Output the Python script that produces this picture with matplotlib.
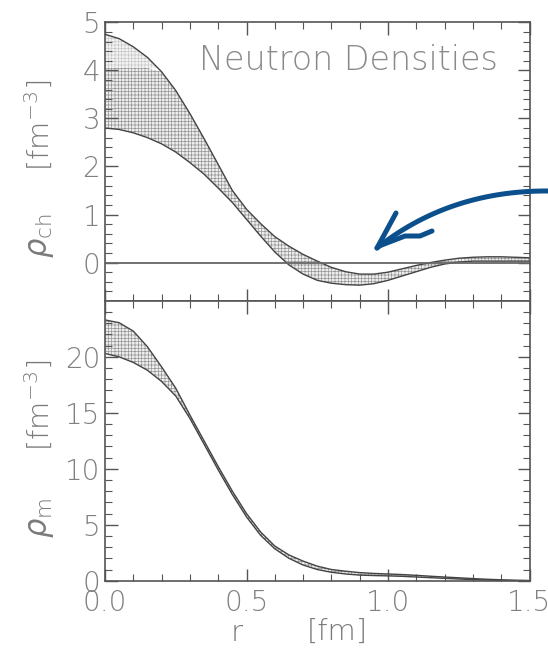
import numpy as np
import matplotlib
matplotlib.use("Agg")
import matplotlib.pyplot as plt
from matplotlib.ticker import MultipleLocator

# ---- data ----
r = [0.0, 0.05, 0.1, 0.15, 0.2, 0.25, 0.3, 0.35, 0.4, 0.45, 0.5, 0.55, 0.6, 0.65,
     0.7, 0.75, 0.8, 0.85, 0.9, 0.95, 1.0, 1.05, 1.1, 1.15, 1.2, 1.25, 1.3, 1.35,
     1.4, 1.45, 1.5]

rho_ch_upper = [4.75, 4.66, 4.49, 4.27, 3.97, 3.58, 3.10, 2.58, 2.04, 1.50, 1.11,
                0.81, 0.54, 0.34, 0.17, 0.03, -0.10, -0.19, -0.24, -0.24, -0.20,
                -0.13, -0.06, 0.00, 0.05, 0.09, 0.11, 0.12, 0.12, 0.11, 0.10]
rho_ch_lower = [2.80, 2.77, 2.70, 2.60, 2.47, 2.30, 2.08, 1.84, 1.55, 1.25, 0.90,
                0.55, 0.22, -0.05, -0.24, -0.37, -0.43, -0.46, -0.47, -0.44, -0.37,
                -0.28, -0.19, -0.10, -0.03, 0.01, 0.03, 0.03, 0.03, 0.03, 0.03]

rho_m_upper = [23.3, 23.05, 22.3, 20.9, 19.1, 17.2, 14.8, 12.5, 10.2, 8.0, 6.0, 4.35,
               3.1, 2.3, 1.75, 1.3, 1.0, 0.85, 0.72, 0.65, 0.6, 0.55, 0.48, 0.4,
               0.33, 0.26, 0.19, 0.13, 0.08, 0.04, 0.02]
rho_m_lower = [20.3, 20.0, 19.5, 18.8, 17.8, 16.5, 14.5, 12.2, 9.9, 7.7, 5.7, 4.05,
               2.85, 2.0, 1.4, 1.0, 0.75, 0.6, 0.5, 0.46, 0.43, 0.39, 0.33, 0.27,
               0.21, 0.15, 0.10, 0.06, 0.03, 0.01, 0.0]

title_text = "Neutron Densities"
xticks = [0.0, 0.5, 1.0, 1.5]
xticklabels = ["0.0", "0.5", "1.0", "1.5"]

# ---- figure ----
plt.rcParams['font.family'] = ['DejaVu Sans']
plt.rcParams['font.weight'] = 200
plt.rcParams['hatch.linewidth'] = 0.5
plt.rcParams['mathtext.fontset'] = 'dejavusans'

W, H = 548, 650
fig = plt.figure(figsize=(W / 100, H / 100), dpi=100)

left = 105 / W
width = (529.5 - 105) / W
ax1 = fig.add_axes([left, 1 - 301 / H, width, (301 - 22.3) / H])
ax2 = fig.add_axes([left, 1 - 580.7 / H, width, (580.7 - 301) / H])

r_arr = np.array(r)
frame_col = '#555555'
label_col = '#808080'
curve_col = '#444444'
text_col = '#7a7a7a'


def style(ax, ymaj, ymin):
    ax.set_xlim(0, 1.5)
    ax.xaxis.set_major_locator(MultipleLocator(0.5))
    ax.xaxis.set_minor_locator(MultipleLocator(0.1))
    ax.yaxis.set_major_locator(MultipleLocator(ymaj))
    ax.yaxis.set_minor_locator(MultipleLocator(ymin))
    ax.tick_params(which='both', direction='in', top=True, right=True,
                   color=frame_col, labelcolor=label_col, labelsize=20)
    ax.tick_params(which='major', length=9, width=1)
    ax.tick_params(which='minor', length=5, width=0.8)
    for s in ax.spines.values():
        s.set_color(frame_col)
        s.set_linewidth(1.2)


# top panel
up = np.array(rho_ch_upper)
lo = np.array(rho_ch_lower)
ax1.fill_between(r_arr, np.minimum(up, 4.05), lo, facecolor='#eeeeee',
                 edgecolor='#959595', hatch='+++++', linewidth=0)
mask = up > 4.05
ax1.fill_between(r_arr, up, 4.05, where=mask, interpolate=True,
                 facecolor='#f3f3f3', edgecolor='#c8c8c8', hatch='+++++',
                 linewidth=0)
ax1.plot(r_arr, up, color=curve_col, lw=1.0)
ax1.plot(r_arr, lo, color=curve_col, lw=1.0)
ax1.axhline(0, color='#666666', lw=1.3)
ax1.set_ylim(-0.8, 5)
style(ax1, 1, 0.2)
ax1.tick_params(labelbottom=False)

# bottom panel
up2 = np.array(rho_m_upper)
lo2 = np.array(rho_m_lower)
ax2.fill_between(r_arr, up2, lo2, facecolor='#eeeeee', edgecolor='#959595',
                 hatch='+++++', linewidth=0)
ax2.plot(r_arr, up2, color=curve_col, lw=1.0)
ax2.plot(r_arr, lo2, color=curve_col, lw=1.0)
ax2.set_ylim(0, 24.99)
style(ax2, 5, 1)
ax2.set_xticks(xticks)
ax2.set_xticklabels(xticklabels)
ax2.tick_params(axis='x', pad=6)

# texts (figure pixel positions)
def fp(x, y):
    return x / W, 1 - y / H

fig.text(*fp(498, 60), title_text, ha='right', va='center', fontsize=24,
         color='#8a8a8a')
fig.text(*fp(40, 125), r'[fm$^{-3}$]', rotation=90, ha='center', va='center',
         fontsize=21, color=text_col)
fig.text(*fp(42, 236), r'$\rho_{\rm ch}$', rotation=90, ha='center', va='center',
         fontsize=22, color=text_col)
fig.text(*fp(40, 405), r'[fm$^{-3}$]', rotation=90, ha='center', va='center',
         fontsize=21, color=text_col)
fig.text(*fp(42, 518), r'$\rho_{\rm m}$', rotation=90, ha='center', va='center',
         fontsize=22, color=text_col)
fig.text(*fp(237, 633), 'r', ha='center', va='center', fontsize=21, color=text_col)
fig.text(*fp(337, 632), '[fm]', ha='center', va='center', fontsize=21,
         color=text_col)

# hand-drawn blue arrow annotation (figure pixel coordinates)
arrow_col = '#0b4f8c'
ax_over = fig.add_axes([0, 0, 1, 1], facecolor='none')
ax_over.set_xlim(0, W)
ax_over.set_ylim(H, 0)
ax_over.axis('off')
t = np.linspace(0, 1, 60)
p0 = np.array([550, 191]); p1 = np.array([450, 190]); p2 = np.array([377, 248])
bez = ((1 - t) ** 2)[:, None] * p0 + (2 * (1 - t) * t)[:, None] * p1 + (t ** 2)[:, None] * p2
ax_over.plot(bez[:, 0], bez[:, 1], color=arrow_col, lw=3.6, solid_capstyle='round')
ax_over.plot([377, 396], [248, 213], color=arrow_col, lw=3.6, solid_capstyle='round')
ax_over.plot([379, 405, 420, 432], [246, 236, 236, 231], color=arrow_col, lw=3.6,
             solid_capstyle='round')

fig.savefig('out.png', dpi=100)
